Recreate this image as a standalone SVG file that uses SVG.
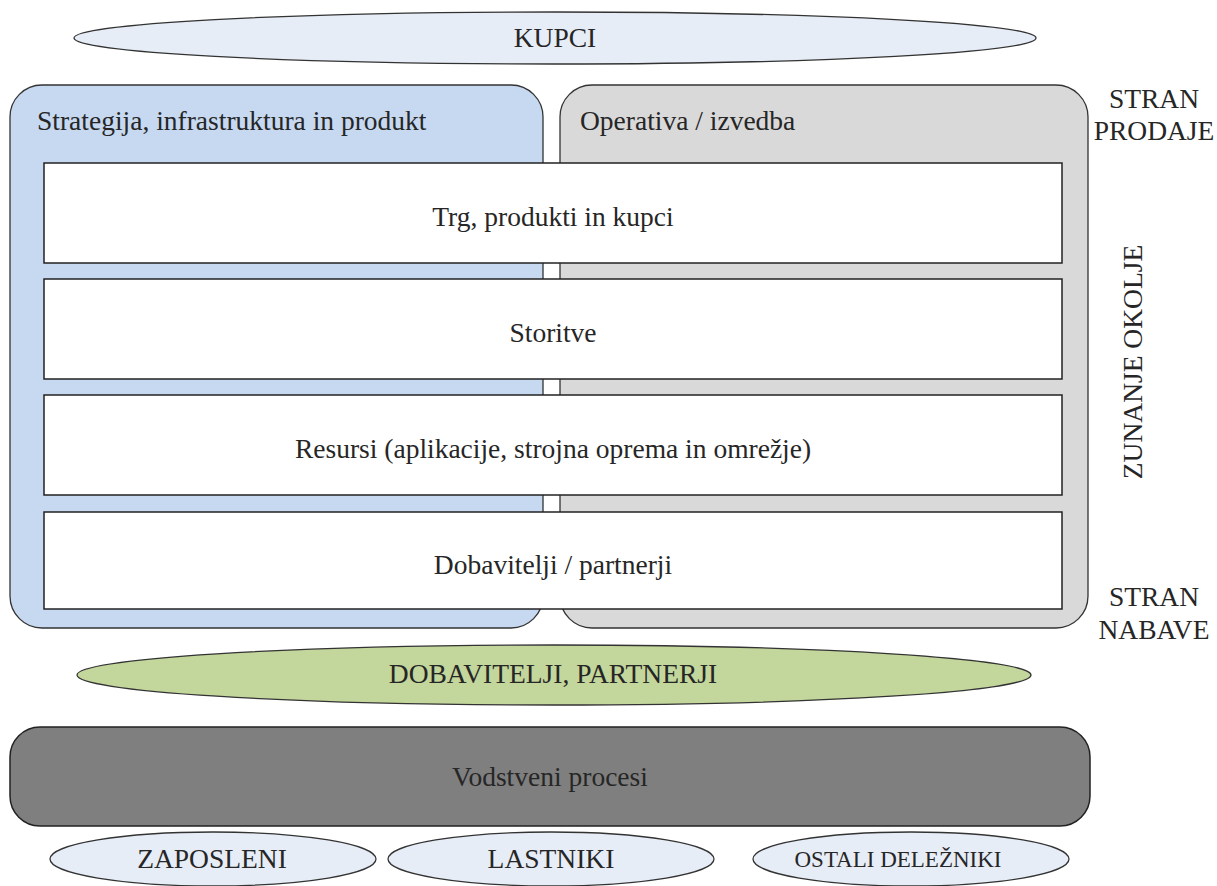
<svg xmlns="http://www.w3.org/2000/svg" width="1217" height="886" viewBox="0 0 1217 886">
  <defs>
    <style>
      text { font-family: 'Liberation Serif', 'Times New Roman', serif; font-size: 27.5px; fill: #262626; }
      .mid { text-anchor: middle; }
      .oval { fill: #e6edf7; stroke: #333; stroke-width: 1.3; }
      .box { fill: #ffffff; stroke: #222; stroke-width: 1.5; }
      .panel { stroke: #333; stroke-width: 1.3; }
    </style>
  </defs>
  <rect width="1217" height="886" fill="#ffffff"/>

  <g id="kupci">
    <ellipse class="oval" cx="555" cy="38" rx="481" ry="26"/>
    <text class="mid" x="555" y="47">KUPCI</text>
  </g>

  <g id="strategija">
    <rect class="panel" x="10" y="85" width="533" height="543" rx="32" fill="#c6d9f1"/>
    <text x="37" y="130">Strategija, infrastruktura in produkt</text>
  </g>

  <g id="operativa">
    <rect class="panel" x="560" y="85" width="528" height="543" rx="32" fill="#d9d9d9"/>
    <text x="580" y="130">Operativa / izvedba</text>
  </g>

  <g id="trg">
    <rect class="box" x="44" y="163" width="1018" height="100"/>
    <text class="mid" x="553" y="226">Trg, produkti in kupci</text>
  </g>

  <g id="storitve">
    <rect class="box" x="44" y="279" width="1018" height="100"/>
    <text class="mid" x="553" y="342">Storitve</text>
  </g>

  <g id="resursi">
    <rect class="box" x="44" y="395" width="1018" height="100"/>
    <text class="mid" x="553" y="458">Resursi (aplikacije, strojna oprema in omrežje)</text>
  </g>

  <g id="dobavitelji-box">
    <rect class="box" x="44" y="512" width="1018" height="97"/>
    <text class="mid" x="553" y="574">Dobavitelji / partnerji</text>
  </g>

  <g id="okolje">
    <text class="mid" x="1154" y="108">STRAN</text>
    <text class="mid" x="1154" y="140">PRODAJE</text>
    <text class="mid" transform="translate(1142 362) rotate(-90)">ZUNANJE OKOLJE</text>
    <text class="mid" x="1154" y="606">STRAN</text>
    <text class="mid" x="1154" y="639">NABAVE</text>
  </g>

  <g id="dobavitelji-partnerji">
    <ellipse cx="554" cy="675" rx="477" ry="30" fill="#c3d69b" stroke="#333" stroke-width="1.3"/>
    <text class="mid" x="553" y="683">DOBAVITELJI, PARTNERJI</text>
  </g>

  <g id="vodstveni">
    <rect x="10" y="727" width="1080" height="99" rx="30" fill="#7f7f7f" stroke="#222" stroke-width="1.5"/>
    <text class="mid" x="550" y="786">Vodstveni procesi</text>
  </g>

  <g id="zaposleni">
    <ellipse class="oval" cx="213" cy="859" rx="163" ry="27"/>
    <text class="mid" x="212" y="868">ZAPOSLENI</text>
  </g>

  <g id="lastniki">
    <ellipse class="oval" cx="551" cy="859" rx="163" ry="27"/>
    <text class="mid" x="551" y="868">LASTNIKI</text>
  </g>

  <g id="ostali">
    <ellipse class="oval" cx="911" cy="859" rx="158" ry="27"/>
    <text class="mid" x="898" y="867" style="font-size:23px">OSTALI DELEŽNIKI</text>
  </g>

  <g id="connectors"/>
</svg>
